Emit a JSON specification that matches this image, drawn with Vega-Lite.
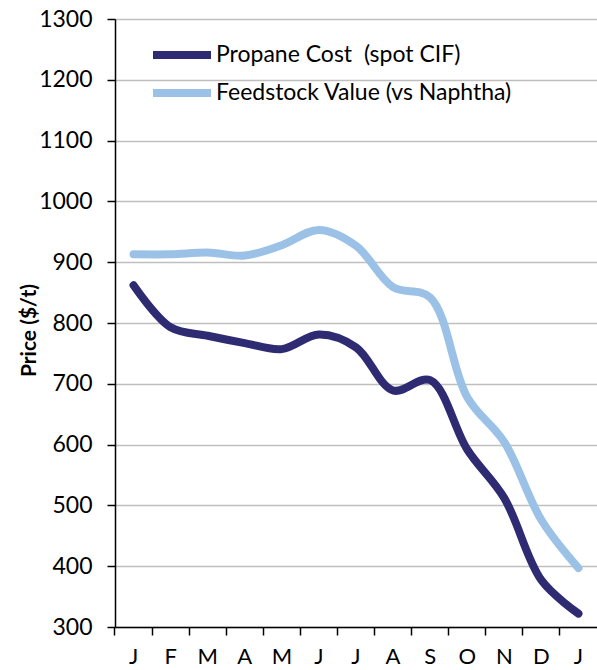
{
  "$schema": "https://vega.github.io/schema/vega-lite/v6.json",
  "autosize": {"type": "none"},
  "padding": {"left": 115, "top": 19, "right": 0, "bottom": 43},
  "width": 482,
  "height": 608,
  "background": "white",
  "config": {
    "font": "Lato",
    "view": {"stroke": null}
  },
  "data": {
    "values": [
      {"m": "J1", "i": 1, "series": "Propane Cost\u00a0 (spot CIF)", "price": 862},
      {"m": "F", "i": 2, "series": "Propane Cost\u00a0 (spot CIF)", "price": 793},
      {"m": "M1", "i": 3, "series": "Propane Cost\u00a0 (spot CIF)", "price": 779},
      {"m": "A1", "i": 4, "series": "Propane Cost\u00a0 (spot CIF)", "price": 767},
      {"m": "M2", "i": 5, "series": "Propane Cost\u00a0 (spot CIF)", "price": 757},
      {"m": "J2", "i": 6, "series": "Propane Cost\u00a0 (spot CIF)", "price": 781},
      {"m": "J3", "i": 7, "series": "Propane Cost\u00a0 (spot CIF)", "price": 760},
      {"m": "A2", "i": 8, "series": "Propane Cost\u00a0 (spot CIF)", "price": 689},
      {"m": "S", "i": 9, "series": "Propane Cost\u00a0 (spot CIF)", "price": 706},
      {"m": "O", "i": 10, "series": "Propane Cost\u00a0 (spot CIF)", "price": 592},
      {"m": "N", "i": 11, "series": "Propane Cost\u00a0 (spot CIF)", "price": 512},
      {"m": "D", "i": 12, "series": "Propane Cost\u00a0 (spot CIF)", "price": 377},
      {"m": "J4", "i": 13, "series": "Propane Cost\u00a0 (spot CIF)", "price": 322},
      {"m": "J1", "i": 1, "series": "Feedstock Value (vs Naphtha)", "price": 913},
      {"m": "F", "i": 2, "series": "Feedstock Value (vs Naphtha)", "price": 913},
      {"m": "M1", "i": 3, "series": "Feedstock Value (vs Naphtha)", "price": 916},
      {"m": "A1", "i": 4, "series": "Feedstock Value (vs Naphtha)", "price": 911},
      {"m": "M2", "i": 5, "series": "Feedstock Value (vs Naphtha)", "price": 928},
      {"m": "J2", "i": 6, "series": "Feedstock Value (vs Naphtha)", "price": 953},
      {"m": "J3", "i": 7, "series": "Feedstock Value (vs Naphtha)", "price": 927},
      {"m": "A2", "i": 8, "series": "Feedstock Value (vs Naphtha)", "price": 859},
      {"m": "S", "i": 9, "series": "Feedstock Value (vs Naphtha)", "price": 842},
      {"m": "O", "i": 10, "series": "Feedstock Value (vs Naphtha)", "price": 678},
      {"m": "N", "i": 11, "series": "Feedstock Value (vs Naphtha)", "price": 604},
      {"m": "D", "i": 12, "series": "Feedstock Value (vs Naphtha)", "price": 476},
      {"m": "J4", "i": 13, "series": "Feedstock Value (vs Naphtha)", "price": 397}
    ]
  },
  "mark": {"type": "line", "interpolate": "catmull-rom", "strokeWidth": 8, "strokeCap": "round", "strokeJoin": "round"},
  "encoding": {
    "x": {
      "field": "m",
      "type": "ordinal",
      "sort": {"field": "i"},
      "bandPosition": 0.5,
      "scale": {"type": "band", "paddingInner": 0, "paddingOuter": 0},
      "axis": {
        "title": null,
        "bandPosition": 0,
        "labelAngle": 0,
        "labelExpr": "substring(datum.label, 0, 1)",
        "labelFont": "Lato",
        "labelFontSize": 22,
        "labelColor": "black",
        "labelPadding": 11,
        "tickSize": 8,
        "tickColor": "black",
        "tickWidth": 1.5,
        "domainColor": "black",
        "domainWidth": 1.5,
        "grid": false
      }
    },
    "y": {
      "field": "price",
      "type": "quantitative",
      "scale": {"domain": [300, 1300], "nice": false, "zero": false},
      "axis": {
        "values": [300, 400, 500, 600, 700, 800, 900, 1000, 1100, 1200, 1300],
        "format": "d",
        "title": "Price ($/t)",
        "titleFont": "Lato",
        "titleFontSize": 21,
        "titleFontWeight": "bold",
        "titleColor": "black",
        "titleAngle": -90,
        "titleAlign": "center",
        "titleBaseline": "middle",
        "titleX": -86,
        "titleY": 311,
        "labelFont": "Lato",
        "labelFontSize": 23,
        "labelColor": "black",
        "labelPadding": 15,
        "tickSize": 8,
        "tickColor": "black",
        "tickWidth": 1.5,
        "domainColor": "black",
        "domainWidth": 1.5,
        "gridColor": "#BFBFBF",
        "gridWidth": 1.5
      }
    },
    "color": {
      "field": "series",
      "type": "nominal",
      "sort": ["Propane Cost\u00a0 (spot CIF)", "Feedstock Value (vs Naphtha)"],
      "scale": {"domain": ["Propane Cost\u00a0 (spot CIF)", "Feedstock Value (vs Naphtha)"], "range": ["#2F2B73", "#9BC2E6"]},
      "legend": {
        "title": null,
        "orient": "none",
        "legendX": 34,
        "legendY": 21,
        "symbolType": "stroke",
        "symbolSize": 3364,
        "symbolStrokeWidth": 8,
        "clipHeight": 30,
        "rowPadding": 8,
        "labelFont": "Lato",
        "labelFontSize": 23,
        "labelColor": "black",
        "labelOffset": 1,
        "labelLimit": 400
      }
    }
  }
}
